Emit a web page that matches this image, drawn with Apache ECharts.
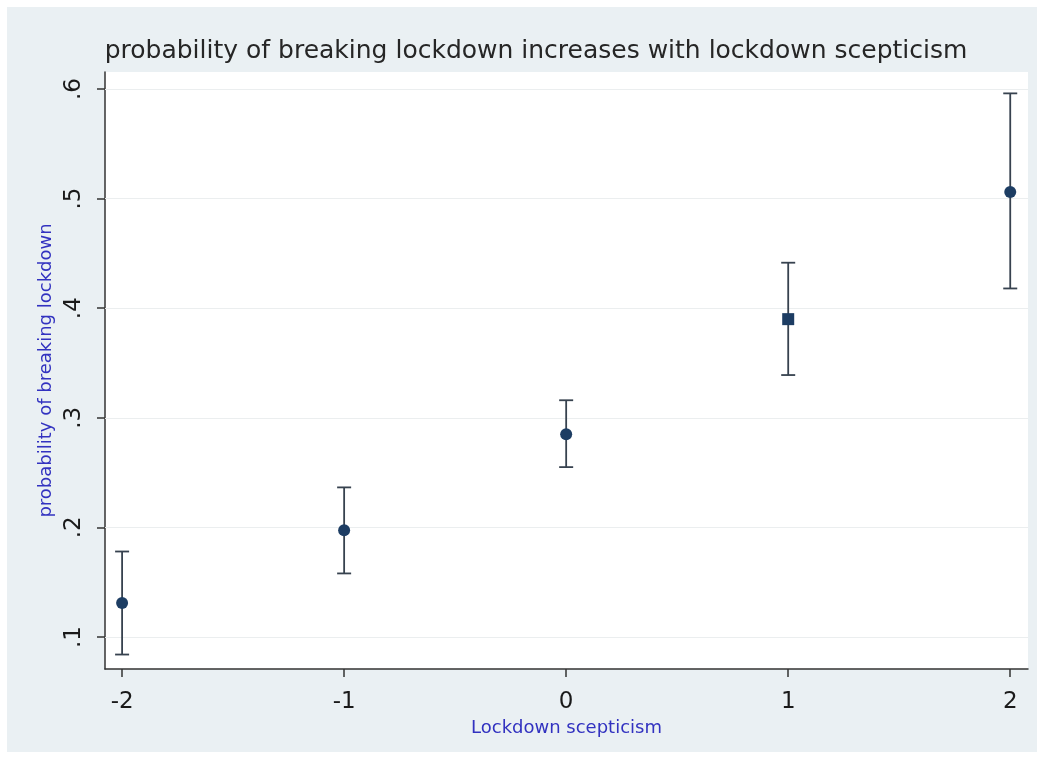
<!DOCTYPE html>
<html>
<head>
<meta charset="utf-8">
<script src="https://cdn.jsdelivr.net/npm/echarts@6/dist/echarts.min.js"></script>
<style>
html,body{margin:0;padding:0;background:#ffffff;}
#chart{width:1044px;height:760px;}
</style>
</head>
<body>
<div id="chart"></div>
<script>
// ---- data ----
const scepticism = [-2, -1, 0, 1, 2];
const probability = [0.131, 0.1975, 0.285, 0.390, 0.506];
const ciLower = [0.084, 0.158, 0.255, 0.339, 0.418];
const ciUpper = [0.178, 0.2365, 0.316, 0.4415, 0.596];
const xTicks = [-2, -1, 0, 1, 2];
const yTicks = [0.1, 0.2, 0.3, 0.4, 0.5, 0.6];

const titleText = 'probability of breaking lockdown increases with lockdown scepticism';
const xTitle = 'Lockdown scepticism';
const yTitle = 'probability of breaking lockdown';

// ---- style ----
const markerColor = '#1d3d63';
const barColor = '#37424f';
const titleBlue = '#3232c0';
const symbolFor = (i) => (i === 3 ? 'rect' : 'circle');

const chart = echarts.init(document.getElementById('chart'));

const points = scepticism.map((x, i) => ({ value: [x, probability[i]], symbol: symbolFor(i) }));
const bars = scepticism.map((x, i) => [x, ciLower[i], ciUpper[i]]);

const fmtY = v => {
  const s = (Math.round(v * 10) / 10).toFixed(1);
  return s.replace(/^0/, '');
};

chart.setOption({
  animation: false,
  backgroundColor: '#ffffff',
  graphic: [
    { type: 'rect', z: -10, silent: true, shape: { x: 7, y: 7, width: 1030, height: 745 }, style: { fill: '#eaf0f3' } },
    { type: 'rect', z: -9, silent: true, shape: { x: 105, y: 72, width: 923, height: 597 }, style: { fill: '#ffffff' } }
  ],
  title: {
    text: titleText,
    left: 531,
    top: 34,
    textAlign: 'center',
    textStyle: { fontFamily: 'DejaVu Sans', fontSize: 25, fontWeight: 'normal', color: '#262626' }
  },
  grid: { left: 105, right: 16, top: 72, bottom: 91, containLabel: false },
  xAxis: {
    type: 'value',
    min: -2.077,
    max: 2.08,
    name: xTitle,
    nameLocation: 'middle',
    nameGap: 46,
    nameTextStyle: { fontFamily: 'DejaVu Sans', fontSize: 18, color: titleBlue },
    axisLine: { show: true, onZero: false, lineStyle: { color: '#333333', width: 1.5 } },
    axisTick: { show: true, length: 8, customValues: xTicks, lineStyle: { color: '#333333', width: 1.5 } },
    axisLabel: {
      customValues: xTicks,
      margin: 22,
      fontFamily: 'DejaVu Sans',
      fontSize: 23,
      color: '#1a1a1a',
      formatter: v => String(v)
    },
    splitLine: { show: false }
  },
  yAxis: {
    type: 'value',
    min: 0.0708,
    max: 0.6155,
    name: yTitle,
    nameLocation: 'middle',
    nameGap: 50,
    nameRotate: 90,
    nameTextStyle: { fontFamily: 'DejaVu Sans', fontSize: 18, color: titleBlue },
    axisLine: { show: true, onZero: false, lineStyle: { color: '#333333', width: 1.5 } },
    axisTick: { show: true, length: 8, customValues: yTicks, lineStyle: { color: '#333333', width: 1.5 } },
    axisLabel: {
      customValues: yTicks,
      rotate: 90,
      margin: 19,
      fontFamily: 'DejaVu Sans',
      fontSize: 23,
      color: '#1a1a1a',
      formatter: fmtY
    },
    splitLine: { show: false }
  },
  series: [
    {
      type: 'custom',
      name: 'ci',
      silent: true,
      z: 2,
      data: bars,
      renderItem: function (params, api) {
        const x = api.value(0);
        const lo = api.coord([x, api.value(1)]);
        const hi = api.coord([x, api.value(2)]);
        const hw = 7;
        const style = { stroke: barColor, lineWidth: 1.8 };
        return {
          type: 'group',
          children: [
            { type: 'line', shape: { x1: lo[0], y1: lo[1], x2: hi[0], y2: hi[1] }, style },
            { type: 'line', shape: { x1: hi[0] - hw, y1: hi[1], x2: hi[0] + hw, y2: hi[1] }, style },
            { type: 'line', shape: { x1: lo[0] - hw, y1: lo[1], x2: lo[0] + hw, y2: lo[1] }, style }
          ]
        };
      }
    },
    {
      type: 'scatter',
      name: 'estimate',
      z: 3,
      symbolSize: 12,
      itemStyle: { color: markerColor, opacity: 1 },
      data: points,
      markLine: {
        silent: true,
        symbol: ['none', 'none'],
        label: { show: false },
        z: 1,
        lineStyle: { color: '#ebeeef', type: 'solid', width: 1.2 },
        data: yTicks.map(v => ({ yAxis: v }))
      }
    }
  ]
});
</script>
</body>
</html>
